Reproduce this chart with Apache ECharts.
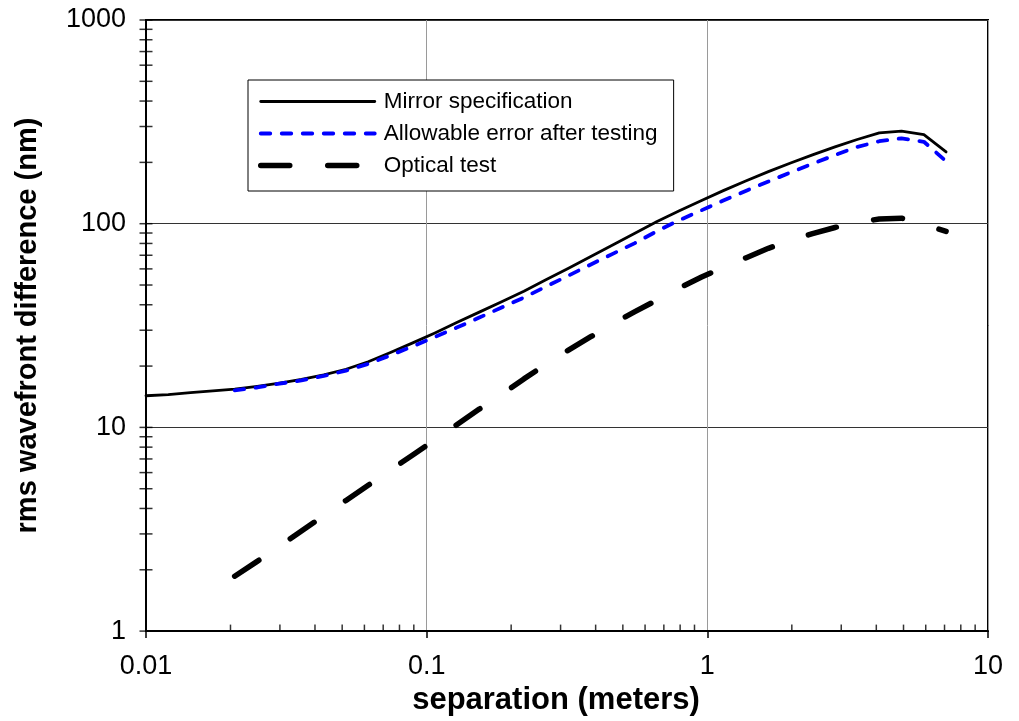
<!DOCTYPE html>
<html>
<head>
<meta charset="utf-8">
<script src="https://cdn.jsdelivr.net/npm/echarts@6/dist/echarts.min.js"></script>
<style>
  html, body { margin: 0; padding: 0; background: #fff; }
  #chart { width: 1019px; height: 721px; }
</style>
</head>
<body>
<div id="chart"></div>
<script>
// Separation between the two sampled points on the mirror (meters)
const separation = [0.01, 0.012, 0.0144, 0.0173, 0.0207, 0.0249, 0.0299, 0.0358, 0.0430, 0.0516,
                    0.0619, 0.0743, 0.0892, 0.107, 0.128, 0.154, 0.185, 0.222, 0.266, 0.319,
                    0.383, 0.460, 0.552, 0.662, 0.795, 0.954, 1.14, 1.37, 1.65, 1.98,
                    2.37, 2.85, 3.42, 4.10, 4.92, 5.91, 7.09];
// rms wavefront difference (nm) at each separation
const mirrorSpec     = [14.3, 14.5, 14.8, 15.1, 15.4, 15.9, 16.5, 17.2, 18.1, 19.3,
                        21.0, 23.3, 26.0, 29.1, 32.7, 36.8, 41.4, 46.6, 53.0, 60.3,
                        68.8, 78.6, 89.8, 102.5, 115.8, 129.9, 145.3, 162.1, 180.1, 198.6,
                        217.8, 238.2, 259.1, 279, 285, 274, 225];
const allowableError = [null, null, null, null, 15.2, 15.7, 16.4, 17.0, 17.9, 19.0,
                        20.5, 22.6, 25.0, 27.8, 30.9, 34.6, 38.8, 43.4, 49.1, 55.5,
                        62.9, 71.1, 80.3, 92.0, 104.1, 116.4, 129.9, 144.9, 161.0, 178.5,
                        196.9, 217.3, 238.2, 254, 262.6, 252.5, 202.5];
const opticalTest    = [null, null, null, null, 1.86, 2.20, 2.61, 3.10, 3.69, 4.38,
                        5.20, 6.17, 7.32, 8.69, 10.3, 12.3, 14.5, 17.3, 20.4, 23.9,
                        27.8, 32.2, 37.0, 42.2, 48.4, 54.7, 61.1, 67.9, 75.7, 82.8,
                        89.4, 95.8, 101.5, 105.5, 106.4, 99.6, 91.6];

const seriesNames = ['Mirror specification', 'Allowable error after testing', 'Optical test'];

// Decade starts and in-between steps for the minor tick marks
const xDecades = [0.01, 0.1, 1];
const yDecades = [1, 10, 100];
const minorSteps = [2, 3, 4, 5, 6, 7, 8, 9];
const yTopTick = [1000];

const FONT = "'Liberation Sans', Arial, Helvetica, sans-serif";

// Line looks shared by each series and its legend entry
const styles = [
  { color: '#000', width: 2.8, type: 'solid' },
  { color: '#0000ff', width: 3.8, type: [9.5, 11.5] },
  { color: '#000', width: 5.5, type: [29, 38] }
];

function pairs(values) {
  return separation.map((x, i) => [x, values[i]]).filter(p => p[1] != null);
}

const xMinorTicks = [];
xDecades.forEach(d => minorSteps.forEach(s => xMinorTicks.push([d * s, 1])));
const yTicks = [];
yDecades.forEach(d => { yTicks.push([0.01, d]); minorSteps.forEach(s => yTicks.push([0.01, d * s])); });
yTopTick.forEach(v => yTicks.push([0.01, v]));

const fmt = v => String(+Number(v).toPrecision(4));

const lineSeries = [mirrorSpec, allowableError, opticalTest].map((vals, i) => ({
  name: seriesNames[i], type: 'line', data: pairs(vals),
  symbol: 'none', smooth: false, z: 3 + i, color: styles[i].color,
  lineStyle: { color: styles[i].color, width: styles[i].width, type: styles[i].type, cap: 'round', join: 'round' }
}));

const chart = echarts.init(document.getElementById('chart'), null, { renderer: 'canvas' });

chart.setOption({
  animation: false,
  backgroundColor: '#fff',
  grid: {
    left: 146, right: 31, top: 20, bottom: 85,
    show: true, borderColor: '#000', borderWidth: 2, backgroundColor: 'transparent'
  },
  legend: {
    data: seriesNames.map((name, i) => ({
      name,
      lineStyle: { color: styles[i].color, width: styles[i].width, type: styles[i].type, cap: 'round' }
    })),
    orient: 'vertical',
    left: 248, top: 80,
    padding: [10, 16, 14, 10],
    itemWidth: 114, itemHeight: 14, itemGap: 9,
    backgroundColor: '#fff',
    borderColor: '#000', borderWidth: 1,
    itemStyle: { opacity: 0 },
    textStyle: { fontFamily: FONT, fontSize: 22.5, color: '#000', lineHeight: 22, padding: [0, 0, 0, 4] },
    selectedMode: false
  },
  xAxis: {
    type: 'log', logBase: 10, min: 0.01, max: 10, splitNumber: 3,
    name: 'separation (meters)', nameLocation: 'middle', nameGap: 45,
    nameTextStyle: { fontFamily: FONT, fontSize: 31, fontWeight: 'bold', color: '#000', padding: [0, 22, 0, 0] },
    axisLine: { show: true, onZero: false, lineStyle: { color: '#000', width: 2 } },
    axisTick: { show: true, inside: false, length: 7, lineStyle: { color: '#000', width: 1.5 } },
    axisLabel: { fontFamily: FONT, fontSize: 27, color: '#000', margin: 22, formatter: fmt },
    splitLine: { show: true, lineStyle: { color: '#9a9a9a', width: 1 } }
  },
  yAxis: {
    type: 'log', logBase: 10, min: 1, max: 1000, splitNumber: 3,
    name: 'rms wavefront difference (nm)', nameLocation: 'middle', nameGap: 104,
    nameTextStyle: { fontFamily: FONT, fontSize: 29, fontWeight: 'bold', color: '#000' },
    axisLine: { show: true, onZero: false, lineStyle: { color: '#000', width: 2 } },
    axisTick: { show: false },
    axisLabel: { fontFamily: FONT, fontSize: 27, color: '#000', margin: 20, formatter: fmt },
    splitLine: { show: true, lineStyle: { color: '#333', width: 1 } }
  },
  series: lineSeries.concat([
    {
      // minor tick marks on the separation axis, pointing into the plot
      name: 'xMinorTicks', type: 'scatter', data: xMinorTicks, silent: true, clip: false, z: 6,
      symbol: 'rect', symbolSize: [1.5, 6.5], symbolOffset: [0, -3.25],
      itemStyle: { color: '#000' }
    },
    {
      // tick marks crossing the wavefront-difference axis
      name: 'yTicks', type: 'scatter', data: yTicks, silent: true, clip: false, z: 6,
      symbol: 'rect', symbolSize: [13, 1.5],
      itemStyle: { color: '#000' }
    }
  ])
});
</script>
</body>
</html>
